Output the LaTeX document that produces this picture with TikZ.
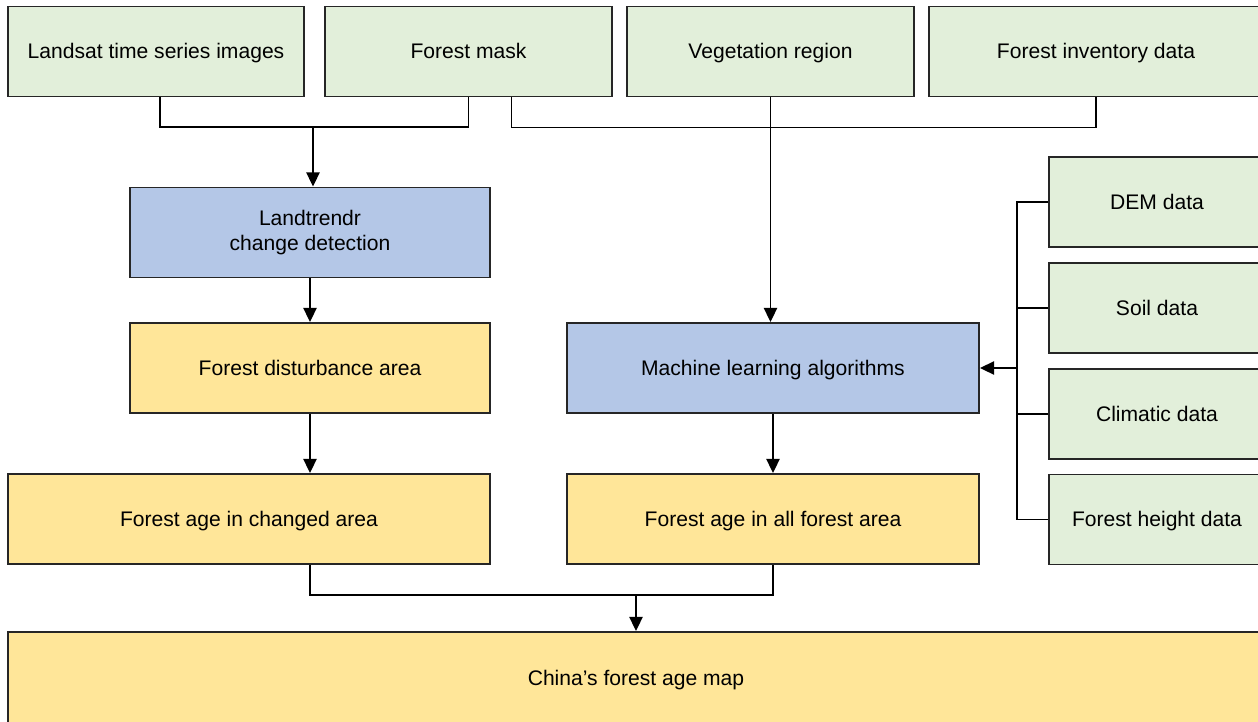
\documentclass[tikz,border=0pt]{standalone}
\usepackage{fontspec}
\setmainfont{Liberation Sans}
\usetikzlibrary{arrows.meta,calc}
\definecolor{boxgreen}{HTML}{E2EFDA}
\definecolor{boxblue}{HTML}{B4C7E7}
\definecolor{boxyellow}{HTML}{FFE699}
\def\u{0.02cm}
\tikzset{
  box/.style={draw=black!85, line width=1.1pt, minimum height=90*\u, inner sep=0pt,
    align=center, text height=11pt, text depth=2.5pt,
    font=\fontsize{12pt}{14.5pt}\selectfont},
  inbox/.style={box, fill=boxgreen},
  procbox/.style={box, fill=boxblue},
  outbox/.style={box, fill=boxyellow},
  link/.style={line width=0.9pt},
  arr/.style={link, -{Triangle[length=8pt,width=7.5pt]}}
}

\begin{document}
\begin{tikzpicture}[x=\u,y=-\u]
\clip (0,0) rectangle (1258,721);

% input data
\node[inbox, minimum width=296*\u] (landsat) at (156,51.5) {Landsat time series images};
\node[inbox, minimum width=287*\u] (mask) at (468.5,51.5) {Forest mask};
\node[inbox, minimum width=287*\u] (veg) at (770.5,51.5) {Vegetation region};
\node[inbox, minimum width=334*\u] (inv) at (1096,51.5) {Forest inventory data};

\foreach \n/\y/\t in {1/202/DEM data, 2/308/Soil data, 3/414/Climatic data, 4/519.5/Forest height data}
{
\node[inbox, minimum width=216*\u] (aux\n) at (1157,\y) {\t};
}

% processing
\node[procbox, minimum width=360*\u, text height=, text depth=] (landtr) at (310,232.5) {Landtrendr\\change detection};
\node[outbox, minimum width=360*\u] (dist) at (310,368) {Forest disturbance area};
\node[procbox, minimum width=412*\u] (ml) at (773,368) {Machine learning algorithms};
\node[outbox, minimum width=482*\u] (agech) at (249,519) {Forest age in changed area};
\node[outbox, minimum width=412*\u] (ageall) at (773,519) {Forest age in all forest area};
\node[outbox, minimum width=1256*\u, minimum height=92*\u] (map) at (636,678) {China’s forest age map};

\coordinate (top1) at (313,127);
\coordinate (bus) at (1017,368);
\coordinate (bot) at (636,595);

% connectors
\draw[link] ([xshift=4*\u]landsat.south) |- (top1) -| (mask.south);
\draw[arr] (top1) -- (top1 |- landtr.north);
\draw[link] ([xshift=43*\u]mask.south) -- ++(0,30) -| (inv.south);
\draw[arr] (veg.south) -- (veg.south |- ml.north);

\foreach \n in {1,...,4}
{
\draw[link] (aux\n.west) -| (bus);
}
\draw[arr] (bus) -- (ml.east);

\draw[arr] (landtr.south) -- (dist.north);
\draw[arr] (dist.south) -- (dist.south |- agech.north);
\draw[arr] (ml.south) -- (ml.south |- ageall.north);

\draw[link] (dist.south |- agech.south) |- (bot) -| (ageall.south);
\draw[arr] (bot) -- (map.north);

\end{tikzpicture}
\end{document}
